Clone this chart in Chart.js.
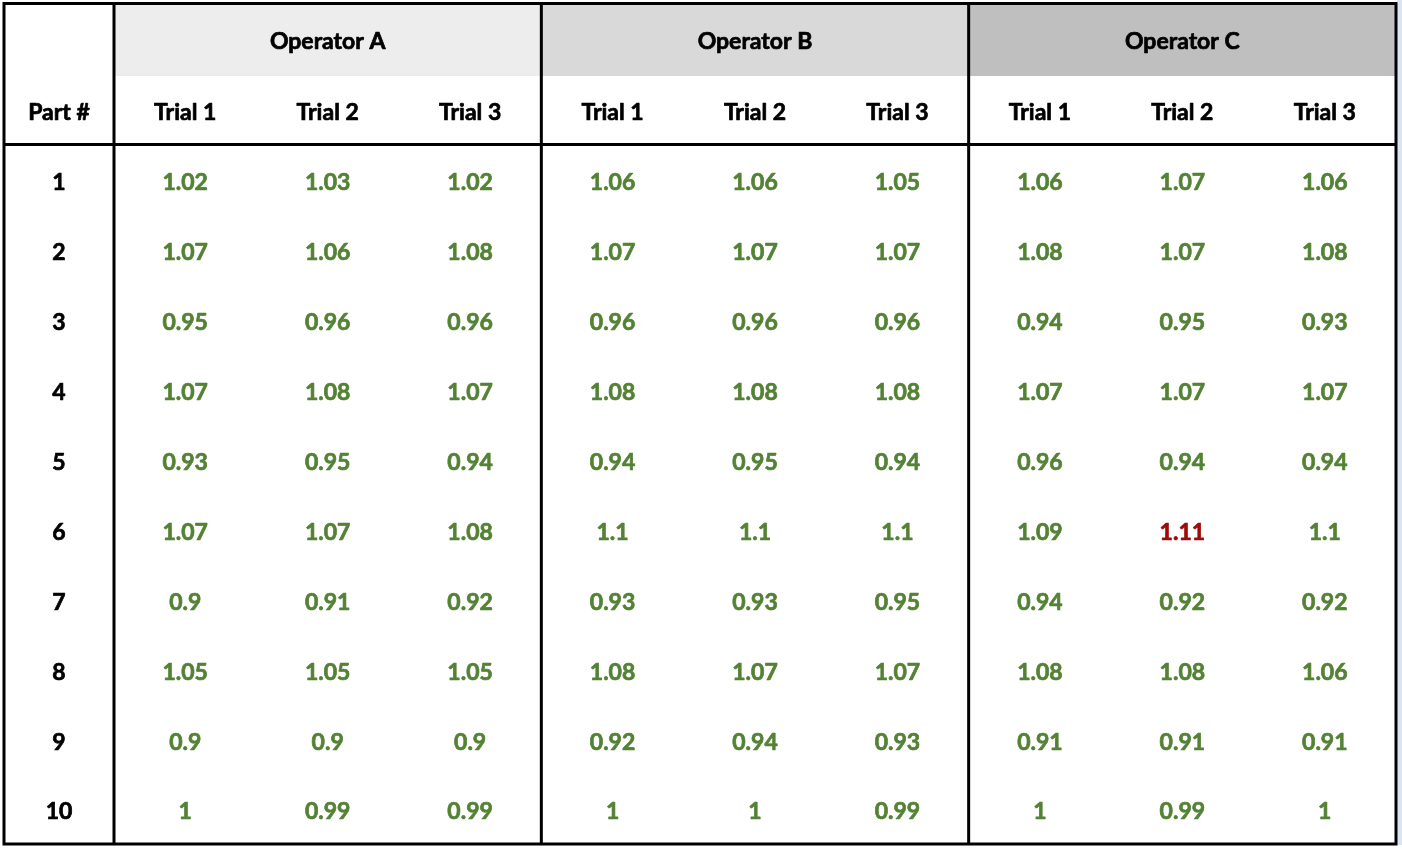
<!DOCTYPE html>
<html>
<head>
<meta charset="utf-8">
<script src="https://cdn.jsdelivr.net/npm/chart.js@4.4.1/dist/chart.umd.min.js"></script>
<style>
  html, body { margin: 0; padding: 0; background: #fff; }
  #wrap { width: 1402px; height: 850px; position: relative; }
</style>
</head>
<body>
<div id="wrap"><canvas id="msaTable"></canvas></div>
<script>
// Rows and column headers
const parts = ["1", "2", "3", "4", "5", "6", "7", "8", "9", "10"];
const operators = ["Operator A", "Operator B", "Operator C"];
const trials = ["Trial 1", "Trial 2", "Trial 3"];

// Measurements, one array per operator / trial (parts 1..10)
const opATrial1 = [1.02, 1.07, 0.95, 1.07, 0.93, 1.07, 0.9, 1.05, 0.9, 1];
const opATrial2 = [1.03, 1.06, 0.96, 1.08, 0.95, 1.07, 0.91, 1.05, 0.9, 0.99];
const opATrial3 = [1.02, 1.08, 0.96, 1.07, 0.94, 1.08, 0.92, 1.05, 0.9, 0.99];
const opBTrial1 = [1.06, 1.07, 0.96, 1.08, 0.94, 1.1, 0.93, 1.08, 0.92, 1];
const opBTrial2 = [1.06, 1.07, 0.96, 1.08, 0.95, 1.1, 0.93, 1.07, 0.94, 1];
const opBTrial3 = [1.05, 1.07, 0.96, 1.08, 0.94, 1.1, 0.95, 1.07, 0.93, 0.99];
const opCTrial1 = [1.06, 1.08, 0.94, 1.07, 0.96, 1.09, 0.94, 1.08, 0.91, 1];
const opCTrial2 = [1.07, 1.07, 0.95, 1.07, 0.94, 1.11, 0.92, 1.08, 0.91, 0.99];
const opCTrial3 = [1.06, 1.08, 0.93, 1.07, 0.94, 1.1, 0.92, 1.06, 0.91, 1];

// anything above this gets flagged red
const upperLimit = 1.1;

const columns = [
  opATrial1, opATrial2, opATrial3,
  opBTrial1, opBTrial2, opBTrial3,
  opCTrial1, opCTrial2, opCTrial3,
];

const GREEN = "#548235";
const RED = "#9c0a0a";
const bandColors = ["#ededed", "#d9d9d9", "#bfbfbf"];
const FONT = "bold 23px Lato";
const TEXT_DY = 2; // Lato sits a little high with baseline "middle"

// one dataset per table column, one point per part
const datasets = columns.map((col, c) => ({
  label: operators[Math.floor(c / 3)] + " " + trials[c % 3],
  data: parts.map((p, r) => ({ x: c, y: r + 1, v: col[r] })),
  pointRadius: 0,
  pointHoverRadius: 0,
}));

// fill + thin outline so the bold text reads as heavy as the original
function boldText(ctx, text, x, y, color) {
  ctx.fillStyle = color;
  ctx.strokeStyle = color;
  ctx.fillText(text, x, y + TEXT_DY);
  ctx.strokeText(text, x, y + TEXT_DY);
}

/**
 * Draws the header bands, cell text and rules of the table
 */
const tablePlugin = {
  id: "tableGrid",
  beforeDraw(chart) {
    const { ctx, chartArea, scales: { x } } = chart;
    ctx.save();
    // pale strip right of the table
    ctx.fillStyle = "#dde4f1";
    ctx.fillRect(chartArea.right + 1, 0, chart.width - chartArea.right, chartArea.bottom);
    operators.forEach((name, g) => {
      const x0 = x.getPixelForValue(g * 3 - 0.5);
      const x1 = x.getPixelForValue(g * 3 + 2.5);
      ctx.fillStyle = bandColors[g];
      ctx.fillRect(x0, 5, x1 - x0, 71);
    });
    ctx.restore();
  },
  afterDatasetsDraw(chart) {
    const { ctx, chartArea, scales: { x, y } } = chart;
    const left = 4;
    const top = 3.5;
    ctx.save();
    ctx.font = FONT;
    ctx.textAlign = "center";
    ctx.textBaseline = "middle";
    ctx.lineWidth = 0.7;
    ctx.lineJoin = "round";

    // cell values
    chart.data.datasets.forEach((ds, i) => {
      chart.getDatasetMeta(i).data.forEach((pt, j) => {
        const v = ds.data[j].v;
        boldText(ctx, String(v), pt.x, pt.y, v > upperLimit ? RED : GREEN);
      });
    });

    // headers
    operators.forEach((name, g) => {
      boldText(ctx, name, x.getPixelForValue(g * 3 + 1), 40, "#000");
    });
    columns.forEach((col, c) => {
      boldText(ctx, trials[c % 3], x.getPixelForValue(c), 111, "#000");
    });
    const partX = (left + chartArea.left) / 2;
    boldText(ctx, "Part #", partX, 111, "#000");
    parts.forEach((p, r) => {
      boldText(ctx, p, partX, y.getPixelForValue(r + 1), "#000");
    });

    // rules
    ctx.strokeStyle = "#000";
    ctx.lineWidth = 3;
    ctx.lineJoin = "miter";
    const bottom = chartArea.bottom - 1;
    ctx.strokeRect(left, top, chartArea.right - left, bottom - top);
    ctx.beginPath();
    [chartArea.left, x.getPixelForValue(2.5), x.getPixelForValue(5.5)].forEach((sx) => {
      ctx.moveTo(sx, top);
      ctx.lineTo(sx, bottom);
    });
    ctx.moveTo(left, chartArea.top - 1.5);
    ctx.lineTo(chartArea.right, chartArea.top - 1.5);
    ctx.stroke();
    ctx.restore();
  },
};

new Chart(document.getElementById("msaTable"), {
  type: "scatter",
  data: { datasets: datasets },
  options: {
    responsive: true,
    maintainAspectRatio: false,
    animation: false,
    events: [],
    layout: { padding: { left: 114, top: 146, right: 6, bottom: 5 } },
    plugins: {
      legend: { display: false },
      tooltip: { enabled: false },
    },
    scales: {
      x: { type: "linear", min: -0.5, max: 8.5, display: false },
      y: { type: "linear", min: 0.5, max: 10.5, reverse: true, display: false },
    },
  },
  plugins: [tablePlugin],
});
</script>
</body>
</html>
